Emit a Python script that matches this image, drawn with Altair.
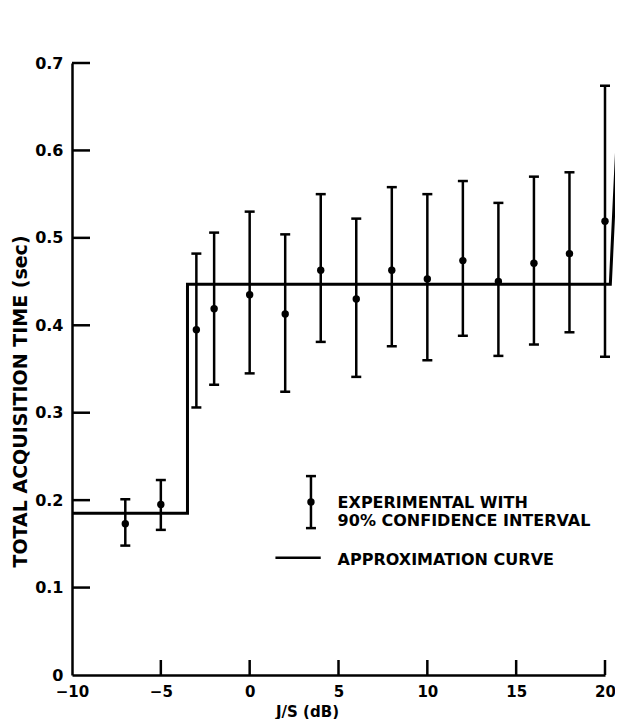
import altair as alt
import pandas as pd

# Experimental points (J/S in dB) with 90% confidence interval
js_db = [-7, -5, -3, -2, 0, 2, 4, 6, 8, 10, 12, 14, 16, 18, 20]
mean_t = [0.173, 0.195, 0.395, 0.419, 0.435, 0.413, 0.463, 0.430, 0.463, 0.453, 0.474, 0.450, 0.471, 0.482, 0.519]
low_t = [0.148, 0.166, 0.306, 0.332, 0.345, 0.324, 0.381, 0.341, 0.376, 0.360, 0.388, 0.365, 0.378, 0.392, 0.364]
high_t = [0.201, 0.223, 0.482, 0.506, 0.530, 0.504, 0.550, 0.522, 0.558, 0.550, 0.565, 0.540, 0.570, 0.575, 0.674]

# Approximation curve vertices
approx_x = [-10, -3.5, -3.5, 20.3, 21.0]
approx_y = [0.185, 0.185, 0.447, 0.447, 0.75]

# Axis ticks and labels
x_label_vals = [-10, -5, 0, 5, 10, 15, 20]
y_label_vals = [0, 0.1, 0.2, 0.3, 0.4, 0.5, 0.6, 0.7]
x_tick_vals = [-5, 0, 5, 10, 15, 20]
y_tick_vals = [0.1, 0.2, 0.3, 0.4, 0.5, 0.6, 0.7]

# Legend content (placed in data space)
legend_texts = ["EXPERIMENTAL WITH", "90% CONFIDENCE INTERVAL", "APPROXIMATION CURVE"]
legend_text_x = [4.95, 4.95, 4.95]
legend_text_y = [0.197, 0.176, 0.131]
legend_bar_x = 3.45
legend_bar = [0.168, 0.198, 0.2275]  # low, mid, high
legend_line_x = [1.45, 4.0]
legend_line_y = 0.134

FONT = "DejaVu Sans"
xs = alt.Scale(domain=[-10, 20], nice=False, zero=False)
ys = alt.Scale(domain=[0, 0.7], nice=False, zero=False)

pts = pd.DataFrame({"x": js_db, "m": mean_t, "lo": low_t, "hi": high_t})
approx = pd.DataFrame({"x": approx_x, "y": approx_y, "o": list(range(len(approx_x)))})

base = alt.Chart(pts)

x_axis = alt.Axis(values=x_label_vals, tickSize=0, labelPadding=9, labelFont=FONT,
                  labelFontSize=15, labelFontWeight="bold", labelColor="black",
                  labelFlush=False, labelOverlap=False,
                  domainColor="black", domainWidth=2.5, grid=False,
                  title="J/S (dB)", titleFont=FONT, titleFontSize=15, titleFontWeight="bold",
                  titleColor="black", titleX=235, titleY=36, titleBaseline="middle",
                  titleAlign="center")
y_axis = alt.Axis(values=y_label_vals, tickSize=0, labelPadding=9, labelFont=FONT,
                  labelFontSize=16, labelFontWeight="bold", labelColor="black",
                  labelFlush=False, labelOverlap=False,
                  labelExpr="datum.value == 0 ? '0' : format(datum.value, '.1f')",
                  domainColor="black", domainWidth=2.5, grid=False,
                  title="TOTAL ACQUISITION TIME (sec)", titleFont=FONT, titleFontSize=19,
                  titleFontWeight="bold", titleColor="black", titleX=-52, titleY=338,
                  titleAngle=270, titleAlign="center", titleBaseline="middle")

bars = base.mark_rule(color="black", strokeWidth=2.5).encode(
    x=alt.X("x:Q", scale=xs, axis=x_axis),
    y=alt.Y("lo:Q", scale=ys, axis=y_axis),
    y2="hi:Q",
)
cap_lo = base.mark_tick(orient="horizontal", size=10, thickness=2.5, color="black", opacity=1).encode(
    x=alt.X("x:Q", scale=xs), y=alt.Y("lo:Q", scale=ys))
cap_hi = base.mark_tick(orient="horizontal", size=10, thickness=2.5, color="black", opacity=1).encode(
    x=alt.X("x:Q", scale=xs), y=alt.Y("hi:Q", scale=ys))
dots = base.mark_circle(size=55, color="black", opacity=1).encode(
    x=alt.X("x:Q", scale=xs), y=alt.Y("m:Q", scale=ys))

curve = alt.Chart(approx).mark_line(color="black", strokeWidth=3, clip=False).encode(
    x=alt.X("x:Q", scale=xs), y=alt.Y("y:Q", scale=ys), order="o:Q")

# inward axis ticks
ytick_df = pd.DataFrame({"v": y_tick_vals})
xtick_df = pd.DataFrame({"v": x_tick_vals})
yticks = alt.Chart(ytick_df).mark_tick(orient="horizontal", size=18, thickness=2.5,
                                       xOffset=9, color="black", opacity=1).encode(
    x=alt.datum(-10, scale=xs), y=alt.Y("v:Q", scale=ys))
xticks = alt.Chart(xtick_df).mark_tick(orient="vertical", size=15, thickness=2.5,
                                       yOffset=-7.5, color="black", opacity=1).encode(
    x=alt.X("v:Q", scale=xs), y=alt.datum(0, scale=ys))

# legend
leg_txt = alt.Chart(pd.DataFrame({"t": legend_texts, "x": legend_text_x, "y": legend_text_y})).mark_text(
    align="left", baseline="middle", font=FONT, fontSize=16, fontWeight="bold", color="black").encode(
    x=alt.X("x:Q", scale=xs), y=alt.Y("y:Q", scale=ys), text="t:N")
leg_bar_df = pd.DataFrame({"x": [legend_bar_x], "lo": [legend_bar[0]], "m": [legend_bar[1]], "hi": [legend_bar[2]]})
lb = alt.Chart(leg_bar_df)
leg_bar = lb.mark_rule(color="black", strokeWidth=2.5).encode(
    x=alt.X("x:Q", scale=xs), y=alt.Y("lo:Q", scale=ys), y2="hi:Q")
leg_cap1 = lb.mark_tick(orient="horizontal", size=10, thickness=2.5, color="black", opacity=1).encode(
    x=alt.X("x:Q", scale=xs), y=alt.Y("lo:Q", scale=ys))
leg_cap2 = lb.mark_tick(orient="horizontal", size=10, thickness=2.5, color="black", opacity=1).encode(
    x=alt.X("x:Q", scale=xs), y=alt.Y("hi:Q", scale=ys))
leg_dot = lb.mark_circle(size=55, color="black", opacity=1).encode(
    x=alt.X("x:Q", scale=xs), y=alt.Y("m:Q", scale=ys))
leg_line = alt.Chart(pd.DataFrame({"x": [legend_line_x[0]], "x2": [legend_line_x[1]], "y": [legend_line_y]})).mark_rule(
    color="black", strokeWidth=2.5).encode(
    x=alt.X("x:Q", scale=xs), x2="x2:Q", y=alt.Y("y:Q", scale=ys))

chart = alt.layer(
    bars, cap_lo, cap_hi, dots, curve, yticks, xticks,
    leg_bar, leg_cap1, leg_cap2, leg_dot, leg_line, leg_txt,
).properties(
    width=533, height=612,
    autosize=alt.AutoSizeParams(type="none"),
    padding={"left": 64, "top": 55, "right": 10, "bottom": 44},
    view=alt.ViewBackground(stroke=None, strokeOpacity=0),
).configure_view(stroke=None, strokeOpacity=0).configure(background="white")

chart.save("out.html", embed_options={"renderer": "svg", "actions": False})
